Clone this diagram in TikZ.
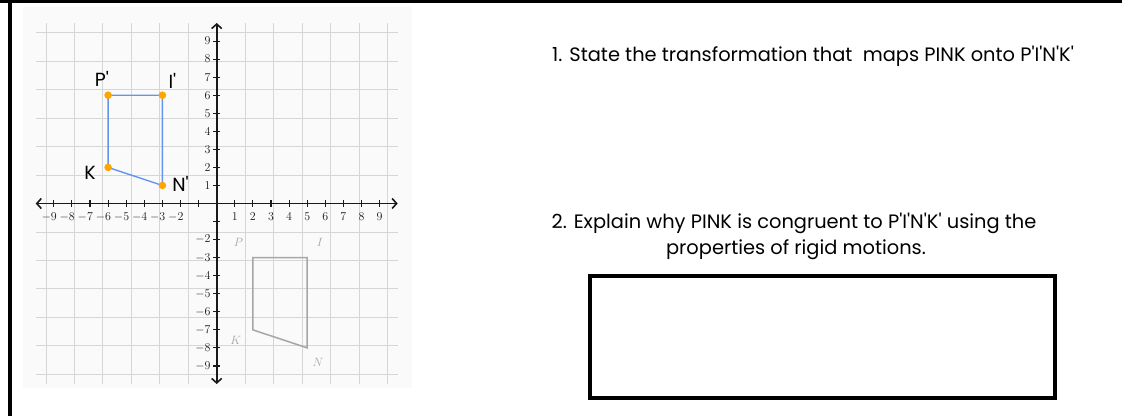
\documentclass[tikz,border=0pt]{standalone}
\usepackage{fontspec}
\newfontfamily\gothic[Ligatures=TeXOff]{Poppins}
\usetikzlibrary{arrows.meta}
\definecolor{gridgray}{HTML}{D6D6D6}
\definecolor{panelgray}{HTML}{FAFAFA}
\definecolor{oldgray}{HTML}{A6A6A6}
\definecolor{newblue}{HTML}{6495ED}
\definecolor{dotorange}{HTML}{FFA500}
\begin{document}
\begin{tikzpicture}[x=1pt, y=-1pt,
    >={Straight Barb[length=4.5pt, width=10pt]},
    gridline/.style={gridgray, line width=0.9pt},
    axis/.style={black!90, line width=1.6pt},
    tick/.style={black!90, line width=1.1pt},
    xlab/.style={anchor=north, inner sep=0pt, yshift=-9pt, font=\fontsize{12}{14}\selectfont, black!90},
    ylab/.style={anchor=east, inner sep=0pt, xshift=-6pt, font=\fontsize{12}{14}\selectfont, black!90},
    oldlab/.style={oldgray, font=\fontsize{13}{15}\selectfont},
    newlab/.style={font=\gothic\fontsize{19}{22}\selectfont},
    qtext/.style={font=\gothic\fontsize{19.4}{23}\selectfont, inner sep=0pt}]
    \useasboundingbox (0,0) rectangle (1122,416);

    % 边框
    \fill[black] (0,0) rectangle (1122,3);
    \fill[black] (8,0) rectangle (12,416);

    % 坐标平面
    \fill[panelgray] (23,7) rectangle (412,388);
    \begin{scope}[shift={(216.7,203.5)}, x={(18.1pt,0pt)}, y={(0pt,18.05pt)}]
        \draw[gridline] (-10,-10) grid (10,10);
        \coordinate (xl) at (-10,0);
        \coordinate (xr) at (10,0);
        \coordinate (yb) at (0,-10);
        \coordinate (yt) at (0,10);
        \draw[axis, <->] (xl) -- (xr);
        \draw[axis, <->] (yb) -- (yt);

        % 刻度
        \foreach \i in {-9,...,-1,1,2,...,9} {
            \draw[tick] (\i,0) ++(0,-3.5pt) -- ++(0,7pt);
            \draw[tick] (0,\i) ++(-3.5pt,0) -- ++(7pt,0);
        }
        \foreach \i in {1,...,9} {
            \node[xlab] (xp\i) at (\i,0) {$\i$};
            \node[ylab] (yp\i) at (0,\i) {$\i$};
        }
        \foreach \i in {2,...,9} {
            \node[xlab] (xn\i) at (-\i,0) {\llap{$-$}$\i$};
            \node[ylab] (yn\i) at (0,-\i) {$-\i$};
        }

        % 原图形 PINK
        \coordinate (P) at (2,-3);
        \coordinate (I) at (5,-3);
        \coordinate (N) at (5,-8);
        \coordinate (K) at (2,-7);
        \draw[oldgray, line width=1.5pt] (P) -- (I) -- (N) -- (K) -- cycle;
        \node[oldlab] (labP) at (1.2,-2.15) {$P$};
        \node[oldlab] (labI) at (5.7,-2.17) {$I$};
        \node[oldlab] (labK) at (1.05,-7.6) {$K$};
        \node[oldlab] (labN) at (5.6,-8.8) {$N$};

        % 像 P'I'N'K'
        \coordinate (Pp) at (-6,6);
        \coordinate (Ip) at (-3,6);
        \coordinate (Np) at (-3,1);
        \coordinate (Kp) at (-6,2);
        \draw[newblue, line width=1.4pt] (Pp) -- (Ip) -- (Np) -- (Kp) -- cycle;
        \foreach \p in {Pp,Ip,Np,Kp}
            \fill[dotorange] (\p) circle (3.8pt);
        \node[newlab] (labPp) at (-6.35,6.9) {P'};
        \node[newlab] (labIp) at (-2.45,6.8) {I'};
        \node[newlab] (labKp) at (-7.0,1.7) {K};
        \node[newlab] (labNp) at (-2.0,1.1) {N'};
    \end{scope}

    % 题目
    \node[qtext, anchor=base west] (q1) at (552,61.5) {1. State the transformation that~ maps PINK onto P'I'N'K'};
    \node[qtext, anchor=base] (q2a) at (794,228) {2. Explain why PINK is congruent to P'I'N'K' using the};
    \node[qtext, anchor=base] (q2b) at (796,254) {properties of rigid motions.};

    % 答题框
    \node[draw, line width=4pt, minimum width=465pt, minimum height=122pt, inner sep=0pt] (box) at (822.5,337) {};
\end{tikzpicture}
\end{document}
